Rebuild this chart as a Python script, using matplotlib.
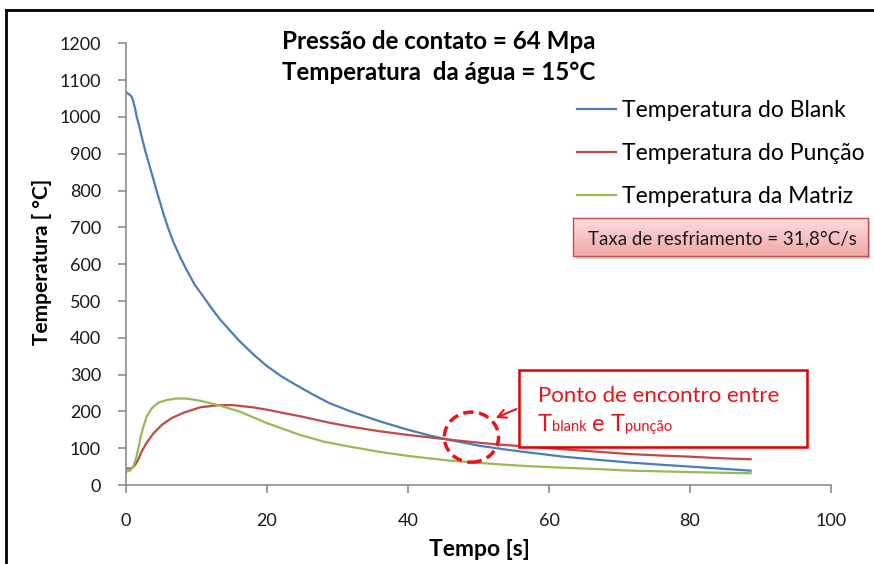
import matplotlib
matplotlib.use('Agg')
import matplotlib.pyplot as plt
from matplotlib.patches import Ellipse, Rectangle, FancyArrowPatch
from matplotlib.lines import Line2D
import numpy as np

plt.rcParams['font.family'] = ['Lato', 'DejaVu Sans']

# --- data ---
t_blank = [0, 0.43, 0.8, 1.04, 1.28, 1.51, 1.89, 2.22, 2.7, 3.17, 3.64, 4.11, 4.59,
           5.3, 6.0, 6.71, 7.66, 8.61, 9.79, 10.97, 12.15, 13.33, 16, 18, 20, 22, 24,
           26.5, 28.9, 32, 36, 40, 43, 45.5, 50, 54, 57.3, 62, 67.2, 71.5, 76, 80, 84, 88.6]
T_blank = [1067, 1062, 1055, 1042, 1024, 1001, 974, 947, 910, 879, 847, 815, 784,
           738, 697, 661, 620, 584, 543, 512, 480, 450, 393, 356, 323, 296, 273,
           246, 222, 199, 173, 150, 135, 124, 107, 96, 88, 77, 68, 61, 55, 50, 45, 39]

t_puncao = [0, 0.8, 1.28, 1.75, 2.22, 2.93, 3.88, 5.06, 6.48, 8.13, 10.5, 13.1, 15.2,
            18, 20.2, 22.5, 24.9, 28.9, 32, 36, 40, 45.5, 50, 53.5, 57.3, 62, 67.2,
            71.5, 76, 80, 84, 88.6]
T_puncao = [45, 45, 54, 70, 91, 115, 140, 163, 182, 196, 211, 217, 217,
            211, 204, 195, 186, 169, 158, 146, 136, 124, 115, 109, 104, 97, 90,
            84, 80, 77, 73, 70]

t_matriz = [0, 0.57, 1.04, 1.42, 1.75, 2.08, 2.46, 2.93, 3.64, 4.59, 5.77, 7.19, 8.61,
            10.5, 13.1, 16.2, 20.0, 24.7, 28, 31.8, 36, 40, 45.5, 48.8, 53, 57.3, 62,
            67.2, 71.5, 76, 80, 84, 88.6]
T_matriz = [36, 39, 50, 72, 100, 131, 158, 186, 208, 224, 231, 235, 235,
            229, 217, 199, 168, 136, 118, 104, 90, 79, 67, 62, 56, 51, 47,
            43, 39, 37, 35, 33.5, 32]

labels = ['Temperatura do Blank', 'Temperatura do Punção', 'Temperatura da Matriz']
colors = ['#4A7EBB', '#BE4B48', '#98B954']

x_ticks = [0, 20, 40, 60, 80, 100]
y_ticks = list(range(0, 1201, 100))

W, H = 874, 564
fig = plt.figure(figsize=(W / 100, H / 100), dpi=100)


def fx(x):
    return x / W


def fy(y):
    return 1 - y / H


ax = fig.add_axes([fx(126), fy(485), (831 - 126) / W, (485 - 43.4) / H])

ax.plot(t_blank, T_blank, color=colors[0], lw=1.6, label=labels[0])
ax.plot(t_puncao, T_puncao, color=colors[1], lw=1.6, label=labels[1])
ax.plot(t_matriz, T_matriz, color=colors[2], lw=1.6, label=labels[2])

ax.set_xlim(0, 100)
ax.set_ylim(0, 1200)
ax.set_xticks(x_ticks)
ax.set_yticks(y_ticks)
for s in ['top', 'right']:
    ax.spines[s].set_visible(False)
for s in ['left', 'bottom']:
    ax.spines[s].set_color('#8c8c8c')
    ax.spines[s].set_linewidth(1.2)
ax.tick_params(direction='out', length=6, width=1.2, color='#8c8c8c',
               labelsize=13, labelcolor='#1a1a1a')
ax.tick_params(axis='y', pad=12)
ax.tick_params(axis='x', pad=14)

# axis titles
fig.text(fx(42), fy(262), 'Temperatura [ °C]', rotation=90, fontsize=15,
         fontweight='bold', ha='center', va='center')
fig.text(fx(479), fy(549), 'Tempo [s]', fontsize=16.5, fontweight='bold',
         ha='center', va='center')

# header
fig.text(fx(282), fy(49), 'Pressão de contato = 64 Mpa', fontsize=17.4,
         fontweight='bold', va='baseline')
fig.text(fx(282), fy(80), 'Temperatura  da água = 15°C', fontsize=17.4,
         fontweight='bold', va='baseline')

# legend
ax.legend(loc='upper left', bbox_to_anchor=(fx(577), fy(100)),
          bbox_transform=fig.transFigure, frameon=False, fontsize=16.5,
          handlelength=1.7, handletextpad=0.25, labelspacing=0.95,
          borderpad=0, borderaxespad=0)

# cooling-rate box with gradient
fig.add_artist(Rectangle((fx(576), fy(259)), (870 - 576) / W, (259 - 221) / H,
                         transform=fig.transFigure, facecolor='#b0b0b0',
                         edgecolor='none', alpha=0.6, zorder=1))
bax = fig.add_axes([fx(573), fy(256), (868 - 573) / W, (256 - 218) / H], zorder=2)
grad = np.linspace(0, 1, 50).reshape(-1, 1)
c_top = np.array([252, 222, 222]) / 255
c_bot = np.array([243, 168, 168]) / 255
img = c_top + grad[..., None] * (c_bot - c_top)
bax.imshow(img, aspect='auto', extent=[0, 1, 0, 1])
bax.set_xticks([])
bax.set_yticks([])
for s in bax.spines.values():
    s.set_color('#c0504d')
    s.set_linewidth(1)
fig.text(fx(588), fy(244), 'Taxa de resfriamento = 31,8°C/s', fontsize=13.5,
         color='#1a1a1a', va='baseline', zorder=3)

# meeting point callout
ax.add_patch(Ellipse((49, 130), 7.7, 136, fill=False, edgecolor='#E8141B',
                     lw=2.5, linestyle=(0, (3, 1.6)), zorder=5))
fig.add_artist(Rectangle((fx(519), fy(447)), (807 - 519) / W, (447 - 370) / H,
                         transform=fig.transFigure, facecolor='white',
                         edgecolor='#E00000', lw=1.8, zorder=4))
fig.add_artist(FancyArrowPatch((fx(519), fy(408)), (fx(493), fy(419)),
                               transform=fig.transFigure,
                               arrowstyle='->,head_length=6,head_width=3',
                               color='#E8141B', lw=1.5, zorder=4))
red = '#E8141B'
fig.text(fx(538), fy(402), 'Ponto de encontro entre', fontsize=16, color=red,
         va='baseline', zorder=5)

fig.canvas.draw()
renderer = fig.canvas.get_renderer()
x = 538
for s, size in [('T', 17), ('blank', 10.5), (' e ', 17), ('T', 17), ('punção', 10.5)]:
    t = fig.text(fx(x), fy(431), s, fontsize=size, color=red, va='baseline', zorder=5)
    bb = t.get_window_extent(renderer)
    x = bb.x1

# outer frame
fig.add_artist(Line2D([fx(6), fx(6)], [0, fy(10)], color='black', lw=2,
                      transform=fig.transFigure))
fig.add_artist(Line2D([fx(6), 1], [fy(10), fy(10)], color='black', lw=2,
                      transform=fig.transFigure))

fig.savefig('out.png', dpi=100)
